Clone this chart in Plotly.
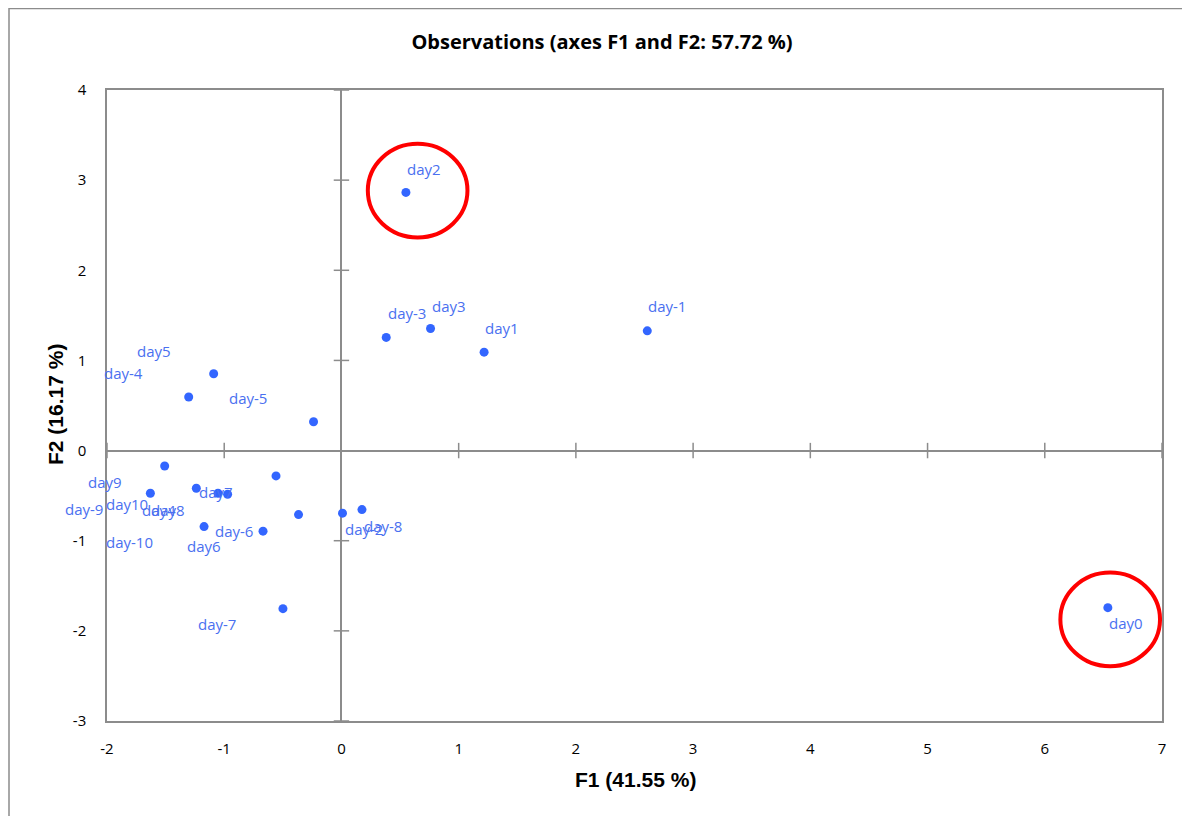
import plotly.graph_objects as go

# ---- data ----
labels = ["day2", "day-3", "day3", "day1", "day-1", "day0",
          "day5", "day-4", "day-5",
          "day9", "day-9", "day10", "day4", "day8", "day7", "day-6",
          "day-2", "day-8", "day-10", "day6", "day-7"]
f1 = [0.550, 0.382, 0.760, 1.217, 2.609, 6.538,
      -1.090, -1.303, -0.238,
      -1.508, -1.630, -1.238, -1.053, -0.971, -0.558, -0.366,
      0.009, 0.175, -1.172, -0.669, -0.499]
f2 = [2.864, 1.255, 1.354, 1.092, 1.328, -1.743,
      0.852, 0.594, 0.320,
      -0.171, -0.473, -0.418, -0.473, -0.484, -0.281, -0.710,
      -0.694, -0.655, -0.843, -0.894, -1.754]

# label offsets from their point, in pixels (right, down)
label_dx = [18, 21, 18, 18, 20, 18,
            -60, -65, -66,
            -60, -66, -69, -59, -60, -60, -65,
            21, 21, -75, -59, -66]
label_dy = [-23, -24, -23, -24, -25, 15,
            -23, -24, -24,
            16, 16, 16, 17, 16, 16, 16,
            16, 16, 15, 15, 15]

x_ticks = [-2, -1, 0, 1, 2, 3, 4, 5, 6, 7]
y_ticks = [-3, -2, -1, 0, 1, 2, 3, 4]
x_ticktext = [str(t) for t in x_ticks]
y_ticktext = [str(t) for t in y_ticks]

# highlighted observations (circled)
highlight = ["day2", "day0"]
circle_shift = [(0.10, 0.02), (0.02, -0.13)]   # centre shift of circle from point (data units)
circle_rx, circle_ry = 0.425, 0.52

W, H = 1182, 808
ML, MT = 99, 82
PW, PH = 1055, 631
MR, MB = W - ML - PW, H - MT - PH

GRAY = "#8c8c8c"
BLUE = "#3366ff"
LBLUE = "#4a70f0"

fig = go.Figure()

# cross tick marks on the zero axes
fig.add_trace(go.Scatter(
    x=[t for t in x_ticks if t != 0], y=[0] * (len(x_ticks) - 1), mode="markers",
    marker=dict(symbol="line-ns", size=11, line=dict(color=GRAY, width=1.5)),
    hoverinfo="skip", showlegend=False))
fig.add_trace(go.Scatter(
    x=[0] * (len(y_ticks) - 1), y=[t for t in y_ticks if t != 0], mode="markers",
    marker=dict(symbol="line-ew", size=11, line=dict(color=GRAY, width=1.5)),
    hoverinfo="skip", showlegend=False))

fig.add_trace(go.Scatter(
    x=f1, y=f2, mode="markers", text=labels,
    marker=dict(color=BLUE, size=9),
    hovertemplate="%{text}<br>F1=%{x:.3f}<br>F2=%{y:.3f}<extra></extra>",
    showlegend=False))

for lab, x, y, dx, dy in zip(labels, f1, f2, label_dx, label_dy):
    fig.add_annotation(x=x, y=y, text=lab, showarrow=False,
                       xshift=dx, yshift=-dy,
                       font=dict(family="Open Sans", size=15, color=LBLUE))

for name, (sx, sy) in zip(highlight, circle_shift):
    i = labels.index(name)
    cx, cy = f1[i] + sx, f2[i] + sy
    fig.add_shape(type="circle", xref="x", yref="y",
                  x0=cx - circle_rx, x1=cx + circle_rx,
                  y0=cy - circle_ry, y1=cy + circle_ry,
                  line=dict(color="#ff0000", width=4))

# outer chart border (runs off the right / bottom edges)
fig.add_shape(type="rect", xref="paper", yref="paper", layer="below",
              x0=(1 - ML) / PW, x1=(W + 20 - ML) / PW,
              y0=(PH - (H + 20 - MT)) / PH, y1=(PH + MT - 0.5) / PH,
              line=dict(color=GRAY, width=1.5))

# axis titles
fig.add_annotation(xref="paper", yref="paper", x=(627 - ML) / PW, y=(MT + PH - 771) / PH,
                   text="<b>F1 (41.55 %)</b>", showarrow=False,
                   xanchor="center", yanchor="middle",
                   font=dict(family="Liberation Sans", size=21, color="black"))
fig.add_annotation(xref="paper", yref="paper", x=(47 - ML) / PW, y=(MT + PH - 397) / PH,
                   text="<b>F2 (16.17 %)</b>", showarrow=False, textangle=-90,
                   xanchor="center", yanchor="middle",
                   font=dict(family="Liberation Sans", size=21, color="black"))

fig.update_layout(
    width=W, height=H,
    margin=dict(l=ML, r=MR, t=MT, b=MB),
    paper_bgcolor="white", plot_bgcolor="white",
    title=dict(text="<b>Observations (axes F1 and F2: 57.72 %)</b>",
               x=594 / W, xanchor="center", y=1 - 34 / H, yanchor="middle",
               font=dict(family="Open Sans", size=20, color="black")),
    xaxis=dict(range=[-2, 7], tickvals=x_ticks, ticktext=x_ticktext, showgrid=False,
               zeroline=True, zerolinecolor=GRAY, zerolinewidth=1.5,
               showline=True, linecolor=GRAY, linewidth=1.5, mirror=True,
               ticks="", ticklabelstandoff=13,
               tickfont=dict(family="Open Sans", size=15, color="black")),
    yaxis=dict(range=[-3, 4], tickvals=y_ticks, ticktext=y_ticktext, showgrid=False,
               zeroline=True, zerolinecolor=GRAY, zerolinewidth=1.5,
               showline=True, linecolor=GRAY, linewidth=1.5, mirror=True,
               ticks="", ticklabelstandoff=16,
               tickfont=dict(family="Open Sans", size=15, color="black")),
)

fig.write_html("out.html")
